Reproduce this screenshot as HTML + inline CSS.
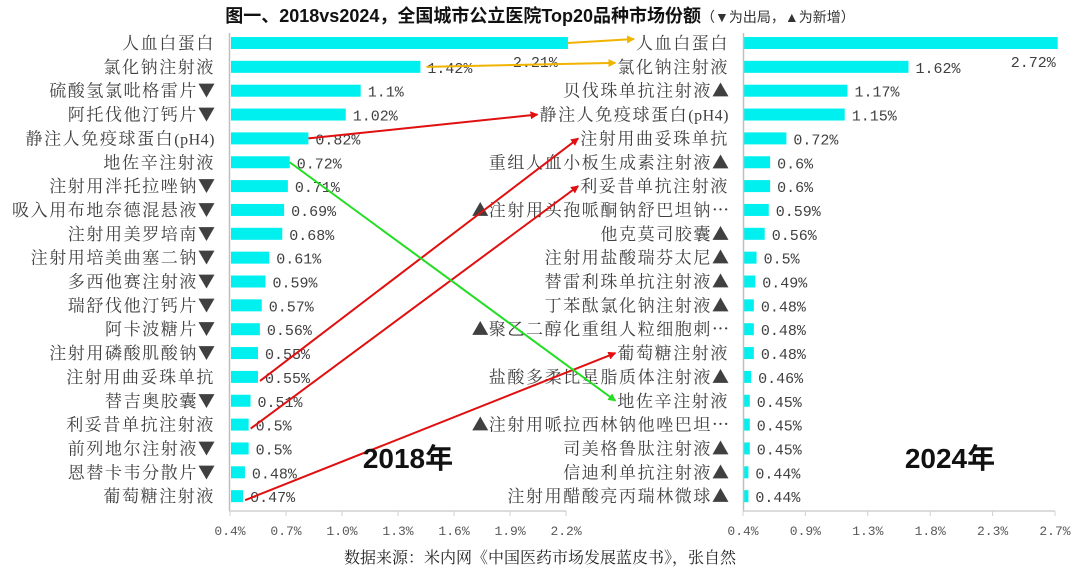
<!DOCTYPE html>
<html><head><meta charset="utf-8"><style>
body{margin:0;background:#fff;}
svg{display:block;}
.lab{font-family:"Liberation Mono","Noto Serif CJK SC",serif;font-size:17px;letter-spacing:1.6px;fill:#404040;}
.tri{font-family:"Noto Sans CJK SC",sans-serif;fill:#404040;letter-spacing:0;}
.asc{font-family:"Liberation Serif",serif;font-size:16px;letter-spacing:0.5px;}
.val{font-family:"Liberation Mono","Noto Serif CJK SC",serif;font-size:15px;fill:#404040;}
.tick{font-family:"Liberation Mono","Noto Serif CJK SC",serif;font-size:13px;fill:#595959;}
</style></head><body>
<svg id="chart" width="1080" height="571" viewBox="0 0 1080 571" xmlns="http://www.w3.org/2000/svg">
<defs>
<marker id="mr" markerWidth="8" markerHeight="8" refX="7" refY="4" orient="auto" markerUnits="userSpaceOnUse" viewBox="0 0 8 8"><path d="M0,0 L8,4 L0,8z" fill="#e01010"/></marker>
<marker id="mg" markerWidth="8" markerHeight="8" refX="7" refY="4" orient="auto" markerUnits="userSpaceOnUse" viewBox="0 0 8 8"><path d="M0,0 L8,4 L0,8z" fill="#22dd22"/></marker>
<marker id="my" markerWidth="8" markerHeight="8" refX="7" refY="4" orient="auto" markerUnits="userSpaceOnUse" viewBox="0 0 8 8"><path d="M0,0 L8,4 L0,8z" fill="#f0b400"/></marker>
</defs>
<text x="540" y="22" text-anchor="middle" font-family="Liberation Sans,'Noto Sans CJK SC',sans-serif" font-size="18" font-weight="bold" fill="#111">图一、2018vs2024，全国城市公立医院Top20品种市场份额<tspan font-size="14" font-weight="normal" fill="#333">（▼为出局，▲为新增）</tspan></text>
<g id="left"></g><g id="right"></g><g id="arrows"></g>
<text x="408" y="468" text-anchor="middle" font-family="Liberation Sans,'Noto Sans CJK SC',sans-serif" font-size="28" font-weight="bold" fill="#111">2018年</text>
<text x="950" y="468" text-anchor="middle" font-family="Liberation Sans,'Noto Sans CJK SC',sans-serif" font-size="28" font-weight="bold" fill="#111">2024年</text>
<text x="540" y="563" text-anchor="middle" font-family="Liberation Serif,'Noto Serif CJK SC',serif" font-size="16" fill="#222">数据来源：米内网《中国医药市场发展蓝皮书》，张自然</text>
</svg>
<script>
const leftNames=["人血白蛋白","氯化钠注射液","硫酸氢氯吡格雷片▼","阿托伐他汀钙片▼","静注人免疫球蛋白(pH4)","地佐辛注射液","注射用泮托拉唑钠▼","吸入用布地奈德混悬液▼","注射用美罗培南▼","注射用培美曲塞二钠▼","多西他赛注射液▼","瑞舒伐他汀钙片▼","阿卡波糖片▼","注射用磷酸肌酸钠▼","注射用曲妥珠单抗","替吉奥胶囊▼","利妥昔单抗注射液","前列地尔注射液▼","恩替卡韦分散片▼","葡萄糖注射液"];
const leftVals=[2.21,1.42,1.1,1.02,0.82,0.72,0.71,0.69,0.68,0.61,0.59,0.57,0.56,0.55,0.55,0.51,0.5,0.5,0.48,0.47];
const rightNames=["人血白蛋白","氯化钠注射液","贝伐珠单抗注射液▲","静注人免疫球蛋白(pH4)","注射用曲妥珠单抗","重组人血小板生成素注射液▲","利妥昔单抗注射液","▲注射用头孢哌酮钠舒巴坦钠…","他克莫司胶囊▲","注射用盐酸瑞芬太尼▲","替雷利珠单抗注射液▲","丁苯酞氯化钠注射液▲","▲聚乙二醇化重组人粒细胞刺…","葡萄糖注射液","盐酸多柔比星脂质体注射液▲","地佐辛注射液","▲注射用哌拉西林钠他唑巴坦…","司美格鲁肽注射液▲","信迪利单抗注射液▲","注射用醋酸亮丙瑞林微球▲"];
const rightVals=[2.72,1.62,1.17,1.15,0.72,0.6,0.6,0.59,0.56,0.5,0.49,0.48,0.48,0.48,0.46,0.45,0.45,0.45,0.44,0.44];
const leftTicks=[0.4,0.7,1.0,1.3,1.6,1.9,2.2];
const rightTicks=[0.4,0.86,1.32,1.78,2.24,2.7];
const rightTickLabels=["0.4%","0.9%","1.3%","1.8%","2.3%","2.7%"];
// links: [left index, right index, color]
const links=[[0,0,"y"],[1,1,"y"],[4,3,"r"],[14,4,"r"],[16,6,"r"],[19,13,"r"],[5,15,"g"]];

const NS="http://www.w3.org/2000/svg";
function xL(v){return 230+(v-0.4)*186.7;}
function xR(v){return 743+(v-0.4)*135.65;}
function yRow(i){return 43+i*23.85;}
function mk(tag,attrs,parent,txt){const e=document.createElementNS(NS,tag);for(const k in attrs)e.setAttribute(k,attrs[k]);if(txt!==undefined)e.textContent=txt;parent.appendChild(e);return e;}
const L=document.getElementById('left'),R=document.getElementById('right'),A=document.getElementById('arrows');
function fmt(v){return String(v)+"%";}
function fillLabel(t,n){
  const parts=n.split(/([▲▼…]|[\x20-\x7e]+)/);
  parts.forEach(p=>{
    if(!p)return;
    let a={};
    if(/[▲▼…]/.test(p))a={class:'tri'};
    else if(/^[\x20-\x7e]+$/.test(p))a={class:'asc'};
    mk('tspan',a,t,p);
  });
}
const rightLabelEls=[];
function drawPanel(g,names,vals,xf,labelX,side){
  names.forEach((n,i)=>{
    const y=yRow(i);
    const t=mk('text',{x:labelX,y:y+6,'text-anchor':'end',class:'lab'},g);
    fillLabel(t,n);
    
    
    if(side==='right')rightLabelEls.push(t);
    const b=mk('rect',{x:xf(0.4)+1,y:y-6,width:Math.max(0,xf(vals[i])-xf(0.4)-1),height:12,fill:'#00f0f0'},g);
    
    
    let vx=xf(vals[i])+7,vy=y+6,anchor='start';
    if(i===0){vx=side==='left'?xf(vals[i])-10:xf(vals[i])-2;vy=y+24;anchor='end';}
    const vt=mk('text',{x:vx,y:vy,'text-anchor':anchor,class:'val'},g,fmt(vals[i]));
    
    
  });
}
drawPanel(L,leftNames,leftVals,xL,215,'left');
drawPanel(R,rightNames,rightVals,xR,729,'right');
// axes
let ax=mk('line',{x1:229.5,y1:33,x2:229.5,y2:511,stroke:'#bfbfbf','stroke-width':1.5},L);

ax=mk('line',{x1:229,y1:511,x2:xL(2.2),y2:511,stroke:'#d0d0d0','stroke-width':1.5},L);

leftTicks.forEach(v=>{
  mk('line',{x1:xL(v),y1:511,x2:xL(v),y2:516,stroke:'#d0d0d0'},L);
  const t=mk('text',{x:xL(v),y:535,'text-anchor':'middle',class:'tick'},L,v.toFixed(1)+"%");
  
  
});
ax=mk('line',{x1:743.5,y1:33,x2:743.5,y2:511,stroke:'#bfbfbf','stroke-width':1.5},R);

ax=mk('line',{x1:743,y1:511,x2:xR(2.7),y2:511,stroke:'#d0d0d0','stroke-width':1.5},R);

rightTicks.forEach((v,i)=>{
  mk('line',{x1:xR(v),y1:511,x2:xR(v),y2:516,stroke:'#d0d0d0'},R);
  const t=mk('text',{x:xR(v),y:535,'text-anchor':'middle',class:'tick'},R,rightTickLabels[i]);
  
  
});
// arrows
const col={y:'#f0b400',r:'#e01010',g:'#22dd22'};
links.forEach(([li,ri,c])=>{
  let x1=xL(leftVals[li])+(c==='y'&&li===1?6:0), y1=yRow(li);
  if(li>=14){x1=xL(leftVals[li])+2;y1=yRow(li)+4;}
  let w=rightLabelEls[ri].getComputedTextLength?rightLabelEls[ri].getComputedTextLength():150;
  const x2=729-w-2, y2=yRow(ri)-(c==='y'?4:0);
  const l=mk('line',{x1:x1,y1:y1,x2:x2,y2:y2,stroke:col[c],'stroke-width':2,'marker-end':'url(#m'+c+')'},A);
  
  
});
</script>
</body></html>
